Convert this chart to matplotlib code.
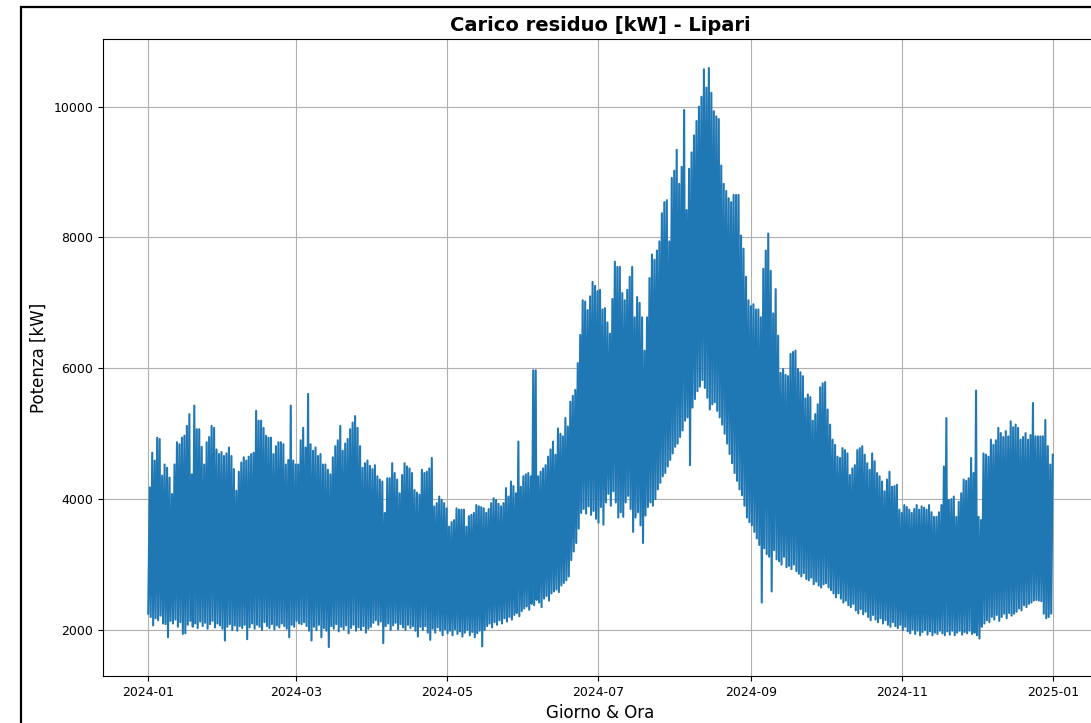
import numpy as np
import pandas as pd
import matplotlib
matplotlib.use("Agg")
import matplotlib.pyplot as plt
import matplotlib.dates as mdates
from matplotlib.patches import Rectangle

# picchi giornalieri (kW), gen -> dic 2024
picchi = [
    # gennaio
    4180, 4710, 4590, 4940, 4920, 4360, 4530, 4480, 4330, 4080, 4530, 4870, 4840, 4940, 4970, 5120,
    5300, 4380, 5430, 5070, 5070, 4800, 4530, 4870, 4950, 5120, 5090, 4760, 4690, 4720, 4660,
    # febbraio
    4700, 4790, 4660, 4460, 4130, 4420, 4560, 4640, 4590, 4650, 4690, 4710, 5350, 5200, 5200,
    5090, 4970, 4940, 4940, 4690, 4810, 4870, 4870, 4840, 4530, 4600, 5430, 4590, 4530,
    # marzo
    4530, 4900, 5090, 4790, 5610, 4840, 4740, 4790, 4660, 4690, 4530, 4530, 4450, 4380, 4640, 4810,
    4900, 5120, 4740, 4850, 4920, 5070, 5170, 5270, 5090, 4810, 4480, 4550, 4590, 4510, 4460,
    # aprile
    4520, 4350, 4300, 4270, 3790, 4320, 4320, 4550, 4400, 4300, 4090, 4370, 4550, 4500, 4470,
    4400, 4140, 4100, 4070, 4450, 4400, 4420, 4470, 4630, 3890, 3940, 4040, 3990, 3940, 3860,
    # maggio
    3580, 3650, 3680, 3860, 3840, 3840, 3840, 3580, 3740, 3760, 3790, 3910, 3890, 3880, 3860, 3790,
    3850, 3940, 4015, 3990, 3930, 3890, 3940, 4170, 4040, 4270, 4200, 4090, 4880, 4190, 4350,
    # giugno
    4380, 4400, 4350, 5970, 5970, 4350, 4420, 4470, 4520, 4650, 4760, 4880, 4680, 5080, 5000,
    4960, 5240, 5110, 5490, 5580, 5670, 6080, 6510, 7040, 7020, 6890, 7100, 7320, 7260, 7180,
    # luglio
    7200, 6900, 6920, 6700, 6530, 7060, 7630, 7550, 7550, 7150, 7040, 7200, 7400, 7550, 6780, 7090,
    7000, 6780, 6270, 6780, 7380, 7740, 7660, 7800, 7940, 8370, 8540, 8570, 7940, 8910, 9020,
    # agosto
    9340, 8820, 9080, 9950, 8420, 9050, 9300, 9560, 9780, 10000, 10150, 10570, 10290, 10590, 10210, 9930,
    9850, 9810, 9100, 8820, 8710, 8600, 8540, 8650, 8650, 8650, 8030, 7830, 7400, 7040, 6950,
    # settembre
    6980, 6900, 6900, 6780, 7520, 7800, 8060, 7490, 6840, 7210, 6500, 5930, 5990, 5900, 5880,
    6220, 6250, 6270, 5990, 5940, 5880, 5540, 5600, 5560, 5200, 5300, 5450, 5710, 5770, 5790,
    # ottobre
    5370, 5140, 4910, 4830, 4650, 4630, 4780, 4750, 4700, 4370, 4470, 4520, 4750, 4780, 4810, 4680,
    4550, 4450, 4700, 4580, 4400, 4350, 4270, 4120, 4300, 4420, 4190, 4200, 4220, 3840, 3790,
    # novembre
    3910, 3880, 3840, 3790, 3850, 3910, 3840, 3890, 3870, 3840, 3910, 3800, 3730, 3730, 3800,
    3910, 4500, 5240, 3990, 4000, 4040, 3730, 3960, 4090, 4300, 4280, 4320, 4630, 4400, 5660,
    # dicembre
    3730, 3680, 4700, 4680, 4650, 4910, 4830, 4900, 5090, 5010, 4950, 5040, 4960, 5190, 5100, 5140,
    5090, 4910, 4950, 5010, 4910, 4980, 5470, 4960, 4960, 4960, 4960, 5210, 4810, 4530, 4680,
]

# minimi giornalieri (kW)
minimi = [
    # gennaio
    2250, 2200, 2070, 2180, 2150, 2220, 2100, 2090, 1890, 2140, 2100, 2160, 2050, 2120, 1940, 1950,
    2080, 2140, 2050, 2100, 2030, 2130, 2060, 2110, 2020, 2090, 2140, 2040, 2100, 2070, 2020,
    # febbraio
    1840, 2050, 2090, 2000, 2070, 1990, 2060, 2030, 2080, 1860, 2040, 2100, 2020, 2080, 2050,
    2000, 2120, 2060, 2030, 2090, 2010, 2070, 2040, 2100, 2060, 2020, 1890, 2080, 2050,
    # marzo
    2140, 2100, 2090, 2120, 2060, 1990, 1840, 2050, 2000, 2080, 1890, 2030, 1990, 1740, 2060, 2020,
    2090, 1980, 2050, 2010, 2070, 1950, 2030, 2080, 1990, 2040, 2000, 2060, 1960, 2020, 2050,
    # aprile
    2110, 2150, 2080, 2130, 1800, 2060, 2100, 2000, 2070, 2110, 2010, 2090, 2040, 2000, 2080,
    2030, 2060, 1990, 1900, 2050, 2000, 2060, 1960, 1850, 2020, 1960, 2040, 1990, 1920, 2010,
    # maggio
    1950, 1990, 1920, 2010, 1940, 1980, 1900, 1960, 2000, 1920, 1970, 1890, 1950, 1990, 1750, 2000,
    2060, 2100, 2040, 2120, 2080, 2150, 2100, 2180, 2130, 2200, 2160, 2230, 2260, 2210, 2290,
    # giugno
    2330, 2360, 2310, 2400, 2380, 2460, 2420, 2350, 2480, 2520, 2450, 2560, 2590, 2620, 2580,
    2680, 2720, 2760, 2820, 3070, 3200, 3330, 3550, 3790, 3850, 3780, 3890, 3760, 3820, 3700,
    # luglio
    3640, 3880, 3610, 3950, 4080, 3900, 4120, 3950, 3720, 3800, 3730, 3950, 4050, 3850, 3500, 3720,
    3800, 3600, 3330, 3750, 3880, 3950, 3900, 4000, 4150, 4250, 4350, 4400, 4500, 4600, 4700,
    # agosto
    4800, 4850, 4950, 5050, 5200, 5250, 4520, 5400, 5530, 5650, 5720, 5820, 5700, 5550, 5370, 5450,
    5480, 5350, 5250, 5140, 5000, 4850, 4690, 4550, 4400, 4280, 4150, 4060, 3900, 3720, 3650,
    # settembre
    3600, 3500, 3400, 3300, 2420, 3250, 3160, 3120, 2590, 3220, 3080, 3050, 3000, 3120, 2960,
    2980, 2930, 3000, 2900, 2860, 2820, 2870, 2780, 2760, 2800, 2700, 2740, 2680, 2650, 2700,
    # ottobre
    2714, 2650, 2610, 2560, 2500, 2560, 2480, 2420, 2450, 2380, 2350, 2400, 2300, 2255, 2320, 2240,
    2280, 2200, 2150, 2230, 2160, 2120, 2180, 2100, 2150, 2080, 2050, 2120, 2060, 2030, 2080,
    # novembre
    2000, 2050, 1980, 1950, 2010, 1940, 1990, 1920, 1970, 2000, 1930, 1980, 1920, 1960, 1940,
    1990, 1950, 1920, 1980, 1930, 1990, 1920, 1960, 1990, 1930, 1970, 1950, 1990, 1940, 1960,
    # dicembre
    1920, 1870, 2050, 2100, 2150, 2120, 2200, 2160, 2230, 2140, 2200, 2250, 2180, 2260, 2220, 2250,
    2280, 2330, 2300, 2380, 2350, 2400, 2420, 2450, 2460, 2450, 2440, 2250, 2180, 2200, 2250,
]

giorni = pd.date_range("2024-01-01", periods=len(picchi), freq="D")

# serie oraria semplificata: minimo notturno e picco serale di ogni giorno
t = np.empty(2 * len(giorni), dtype="datetime64[ns]")
t[0::2] = (giorni + pd.Timedelta(hours=4)).values
t[1::2] = (giorni + pd.Timedelta(hours=19)).values
carico = np.empty(2 * len(giorni))
carico[0::2] = minimi
carico[1::2] = picchi

fig = plt.figure(figsize=(10.91, 7.23), dpi=100)
ax = fig.add_axes([0.0944, 0.065, 0.912, 0.881])

ax.plot(t, carico, color="#1f77b4", linewidth=1.5)

ax.set_title("Carico residuo [kW] - Lipari", fontsize=14, fontweight="bold")
ax.set_xlabel("Giorno & Ora", fontsize=12)
ax.set_ylabel("Potenza [kW]", fontsize=12)
ax.xaxis.set_major_locator(mdates.MonthLocator(interval=2))
ax.xaxis.set_major_formatter(mdates.DateFormatter("%Y-%m"))
ax.tick_params(labelsize=9)
ax.set_yticks([2000, 4000, 6000, 8000, 10000])
ax.grid(True)

# cornice nera dello screenshot
fig.patches.append(Rectangle((20.5 / 1091, -0.2), 1.2, 1.2 - 6.5 / 723,
                             transform=fig.transFigure, fill=False,
                             edgecolor="black", linewidth=1.6))

fig.savefig("out.png", dpi=100)
